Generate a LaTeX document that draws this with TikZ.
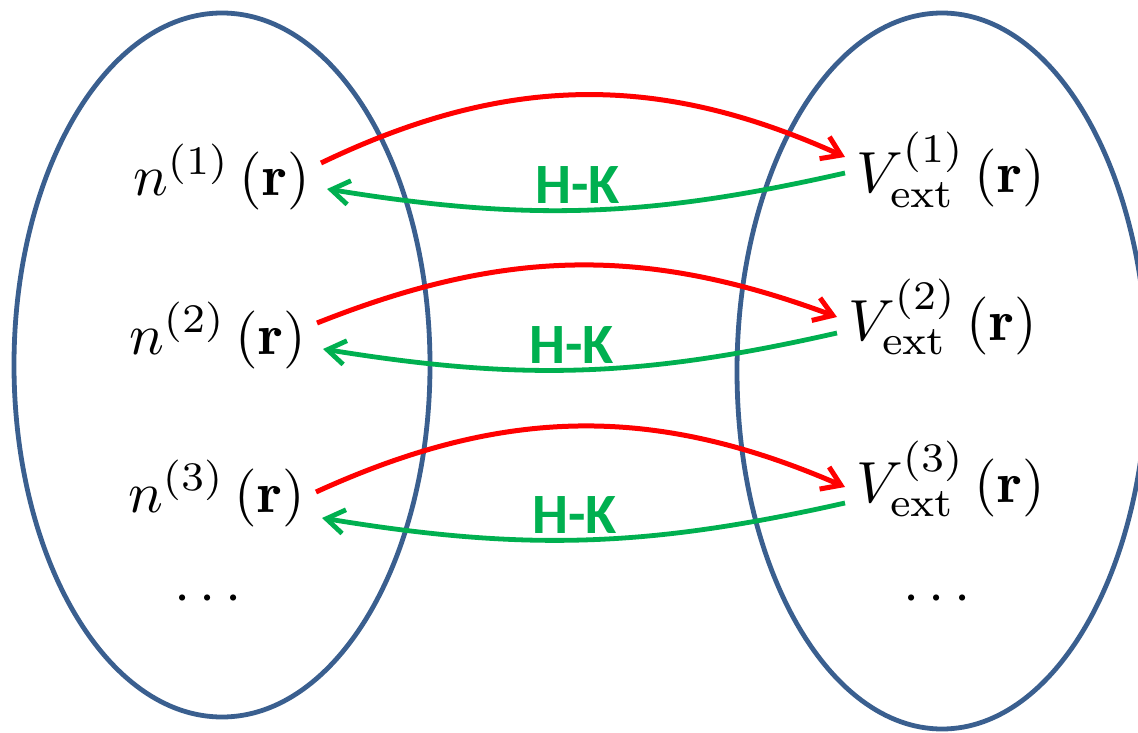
\documentclass[tikz,border=0pt]{standalone}
\usepackage{fontspec}
\newfontfamily\hkfont{Carlito}
\usetikzlibrary{arrows.meta}
\definecolor{ovalc}{HTML}{3A5F8F}
\definecolor{fwdc}{HTML}{FF0000}
\definecolor{hkc}{HTML}{00B050}
\tikzset{
  oval/.style={draw=ovalc,line width=2.4pt},
  mth/.style={inner sep=0pt,scale=2.9,transform shape},
  fwd/.style={-{Straight Barb[length=9pt,width=12pt]},line width=2.5pt,fwdc},
  bwd/.style={-{Straight Barb[length=9pt,width=12pt]},line width=2.4pt,hkc},
  hk/.style={font=\hkfont\bfseries\fontsize{28.5}{32}\selectfont,text=hkc,inner sep=2pt}
}
\begin{document}
\begin{tikzpicture}[x=0.5pt,y=-0.5pt]
\useasboundingbox (0,0) rectangle (1138,732);
\clip (0,0) rectangle (1138,732);
\draw[oval] (222,365) ellipse [x radius=208,y radius=352];
\draw[oval] (942,371) ellipse [x radius=205,y radius=358];
\foreach \i/\xl/\yl/\xr/\yr/\a/\b/\rb in {1/132/196/855/193/0/-28/25,2/128/354/847/340/2/-15/21,3/127/512/855/502/13/-7/24}{
 \node[mth,anchor=base west] (n\i) at (\xl,\yl) {$n^{(\i)}\,(\mathbf{r})$};
 \node[mth,anchor=base west] (v\i) at (\xr,\yr) {$V^{(\i)}_{\mathrm{ext}}\,(\mathbf{r})$};
 \draw[fwd] ([shift={(10,\a-33)}]n\i.base east) to[bend left=\rb] ([shift={(-10,\b-8)}]v\i.base west);
 \draw[bwd] ([shift={(-10,\b+8)}]v\i.base west) to[bend left=11] node[hk,pos=0.52,above] (hk\i) {H-K} ([shift={(16,\a-7)}]n\i.base east);}
\node[mth] (ndots) at (208,600) {$\cdots$};
\node[mth] (vdots) at (937,600) {$\cdots$};
\end{tikzpicture}
\end{document}
